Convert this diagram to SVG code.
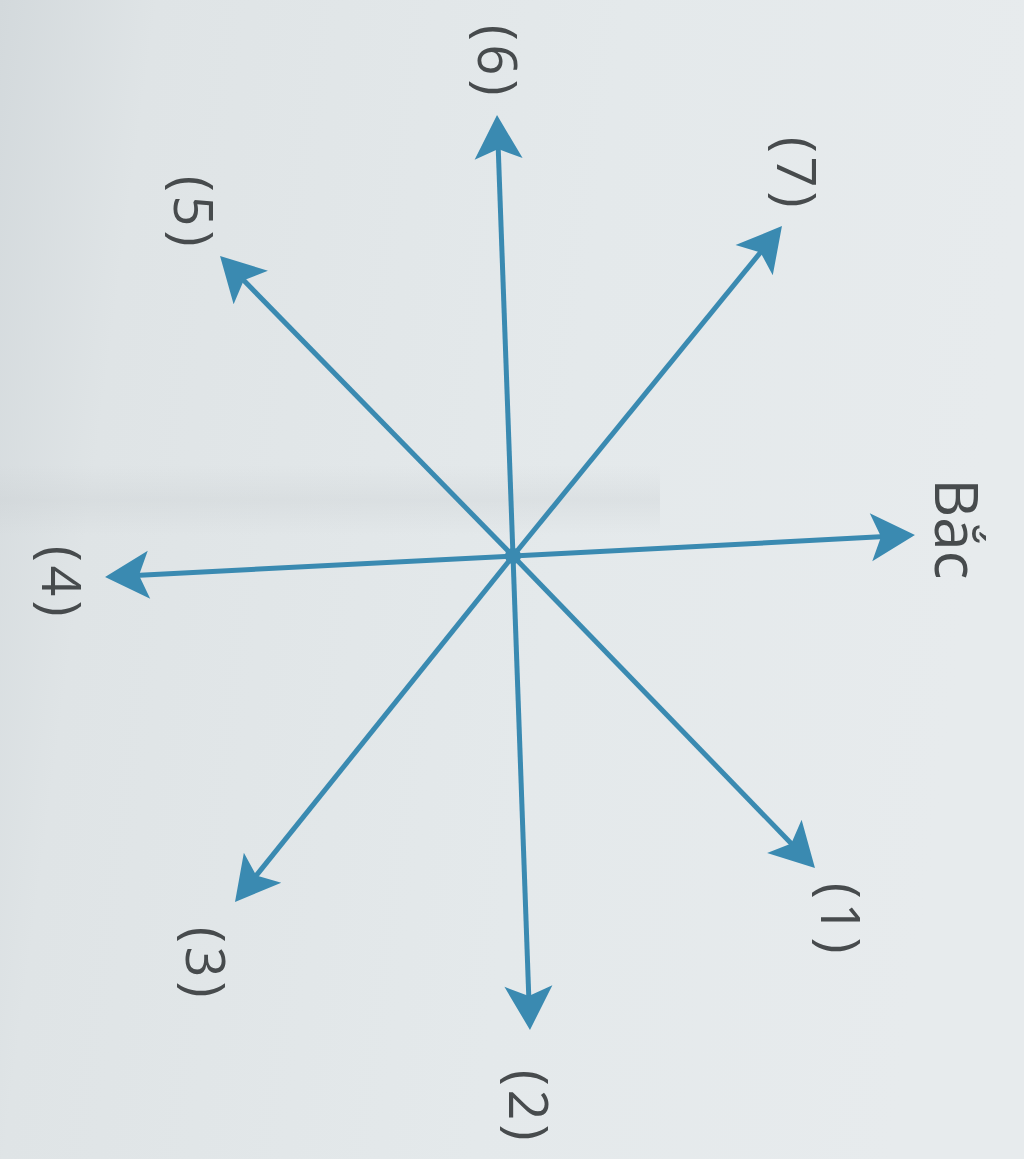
<svg xmlns="http://www.w3.org/2000/svg" width="1024" height="1159" viewBox="0 0 1024 1159">
<style>
.ray{stroke:#3a8ab1;stroke-width:5;fill:none;marker-end:url(#ah)}
.lbl{font-family:"Open Sans","Liberation Sans",sans-serif;font-size:54px;fill:#474b4d;text-anchor:middle;dominant-baseline:central;letter-spacing:4px}
.north{font-size:60px;letter-spacing:0}
</style>
<defs>
<linearGradient id="bg" x1="0" y1="0" x2="1" y2="0.15">
<stop offset="0" stop-color="#d3d9dc"/>
<stop offset="0.15" stop-color="#dfe4e6"/>
<stop offset="0.6" stop-color="#e4e9eb"/>
<stop offset="1" stop-color="#e7ebed"/>
</linearGradient>
<linearGradient id="fold" x1="0" y1="0" x2="0" y2="1">
<stop offset="0" stop-color="#c8cdd0" stop-opacity="0"/>
<stop offset="0.5" stop-color="#c8cdd0" stop-opacity="0.3"/>
<stop offset="1" stop-color="#c8cdd0" stop-opacity="0"/>
</linearGradient>
<marker id="ah" markerUnits="userSpaceOnUse" viewBox="-2 -26 50 52" refX="14" refY="0" markerWidth="50" markerHeight="52" orient="auto">
<path d="M0,-24 L44,0 L0,24 L10,0 Z" fill="#3a8ab1"/>
</marker>
</defs>
<rect width="1024" height="1159" fill="url(#bg)"/>
<rect x="0" y="465" width="660" height="70" fill="url(#fold)"/>
<g id="connectors">
<line class="ray" x1="513" y1="556" x2="885" y2="536.6"/>
<line class="ray" x1="513" y1="556" x2="794.1" y2="846.4"/>
<line class="ray" x1="513" y1="556" x2="528.9" y2="1000"/>
<line class="ray" x1="513" y1="556" x2="253.8" y2="878.6"/>
<line class="ray" x1="513" y1="556" x2="135" y2="575.5"/>
<line class="ray" x1="513" y1="556" x2="241" y2="277.5"/>
<line class="ray" x1="513" y1="556" x2="498.1" y2="145"/>
<line class="ray" x1="513" y1="556" x2="763" y2="249.3"/>
<circle cx="513" cy="556" r="8" fill="#3a8ab1"/>
</g>
<g id="bac"><text class="lbl north" transform="translate(958,529) rotate(90)">Bắc</text></g>
<g id="n1"><text class="lbl" transform="translate(842,920) rotate(90)">(1)</text></g>
<g id="n2"><text class="lbl" transform="translate(530,1107) rotate(90)">(2)</text></g>
<g id="n3"><text class="lbl" transform="translate(207,964) rotate(90)">(3)</text></g>
<g id="n4"><text class="lbl" transform="translate(63,583) rotate(90)">(4)</text></g>
<g id="n5"><text class="lbl" transform="translate(195,213) rotate(90)">(5)</text></g>
<g id="n6"><text class="lbl" transform="translate(499,62) rotate(90)">(6)</text></g>
<g id="n7"><text class="lbl" transform="translate(798,174) rotate(90)">(7)</text></g>
</svg>
